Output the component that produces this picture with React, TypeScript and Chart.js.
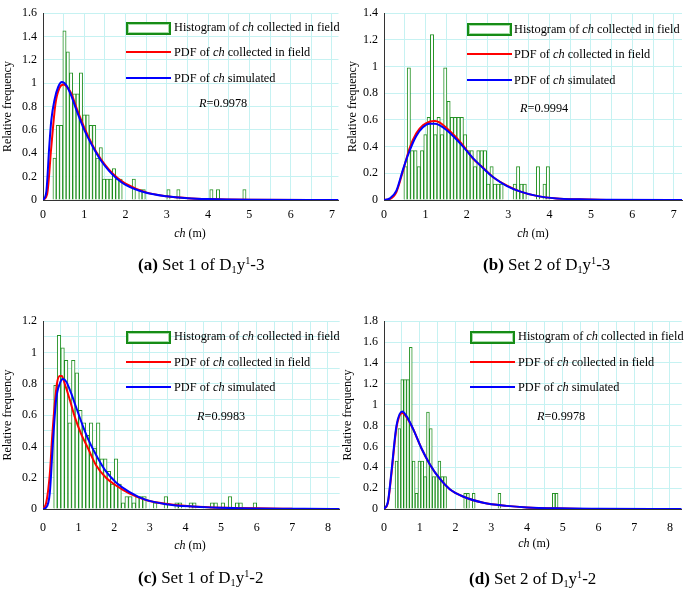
import React, { useEffect, useRef } from 'react';
import { Chart, registerables } from 'chart.js';
Chart.register(...registerables);

const FONT = "'Liberation Serif','Times New Roman',Times,serif";

// ---------- Panel (a): Set 1 of D1y1-3 ----------
const aBarX = [0.28,0.36,0.44,0.52,0.60,0.68,0.76,0.84,0.92,1.00,1.08,1.16,1.24,1.32,1.40,1.48,1.56,1.64,1.72,1.80,1.88,2.20,2.36,2.44,3.04,3.28,4.08,4.24,4.88];
const aBarY = [0.36,0.64,0.64,1.45,1.27,1.09,0.91,0.91,1.09,0.73,0.73,0.64,0.64,0.36,0.45,0.18,0.18,0.18,0.27,0.18,0.18,0.18,0.09,0.09,0.09,0.09,0.09,0.09,0.09];
const aFieldX = [0,0.1,0.2,0.3,0.4,0.5,0.6,0.7,0.8,1.0,1.2,1.4,1.6,1.8,2.0,2.5,3.0,3.5,4.0,5.0,7.0];
const aFieldY = [0,0.05,0.45,0.82,0.96,0.99,0.96,0.9,0.8,0.62,0.47,0.35,0.26,0.19,0.14,0.065,0.032,0.016,0.008,0.002,0];
const aSimX = [0,0.08,0.15,0.2,0.28,0.37,0.46,0.57,0.7,0.8,1.0,1.2,1.4,1.6,1.8,2.0,2.5,3.0,3.5,4.0,5.0,7.16];
const aSimY = [0,0.07,0.45,0.68,0.86,0.97,1.01,0.98,0.88,0.78,0.6,0.46,0.34,0.25,0.18,0.13,0.062,0.032,0.016,0.008,0.002,0];

// ---------- Panel (b): Set 2 of D1y1-3 ----------
const bBarX = [0.52,0.60,0.68,0.76,0.84,0.92,1.00,1.08,1.16,1.24,1.32,1.40,1.48,1.56,1.64,1.72,1.80,1.88,1.96,2.04,2.12,2.20,2.28,2.36,2.44,2.52,2.60,2.68,2.76,2.84,3.16,3.24,3.32,3.40,3.72,3.88,3.96];
const bBarY = [0.25,0.99,0.37,0.37,0.25,0.37,0.49,0.62,1.24,0.49,0.62,0.49,0.99,0.74,0.62,0.62,0.62,0.62,0.49,0.37,0.37,0.25,0.37,0.37,0.37,0.12,0.25,0.12,0.12,0.12,0.12,0.25,0.12,0.12,0.25,0.12,0.25];
const bFieldX = [0,0.14,0.3,0.46,0.62,0.78,0.94,1.1,1.23,1.35,1.51,1.71,1.91,2.15,2.4,2.64,2.96,3.28,3.69,4.17,4.73,5.38];
const bFieldY = [0,0.007,0.06,0.22,0.39,0.5,0.56,0.587,0.592,0.58,0.54,0.48,0.41,0.31,0.24,0.17,0.11,0.065,0.031,0.012,0.005,0];
const bSimX = [0,0.14,0.3,0.46,0.62,0.78,0.94,1.1,1.23,1.35,1.51,1.71,1.91,2.15,2.4,2.64,2.96,3.28,3.69,4.17,4.73,5.38,7.2];
const bSimY = [0,0.012,0.07,0.23,0.37,0.48,0.545,0.572,0.572,0.56,0.524,0.466,0.4,0.314,0.237,0.17,0.106,0.065,0.031,0.012,0.005,0.001,0];

// ---------- Panel (c): Set 1 of D1y1-2 ----------
const cBarX = [0.35,0.45,0.55,0.65,0.75,0.85,0.95,1.05,1.15,1.25,1.35,1.45,1.55,1.65,1.75,1.85,1.95,2.05,2.15,2.25,2.35,2.45,2.55,2.65,2.75,2.85,3.15,3.45,3.75,3.85,4.15,4.25,4.75,4.85,5.05,5.25,5.45,5.55,5.95];
const cBarY = [0.79,1.11,1.03,0.95,0.55,0.95,0.87,0.63,0.55,0.47,0.55,0.39,0.55,0.32,0.32,0.24,0.16,0.32,0.16,0.04,0.08,0.08,0.04,0.08,0.08,0.08,0.04,0.08,0.04,0.04,0.04,0.04,0.04,0.04,0.04,0.08,0.04,0.04,0.04];
const cFieldX = [0,0.09,0.19,0.26,0.33,0.39,0.47,0.53,0.61,0.75,0.89,1.07,1.26,1.49,1.77,2.05,2.42,2.89,3.45,4.19,5.13,7.0];
const cFieldY = [0,0.04,0.22,0.47,0.67,0.8,0.85,0.85,0.8,0.7,0.59,0.48,0.39,0.28,0.2,0.15,0.1,0.058,0.033,0.016,0.008,0.002];
const cSimX = [0,0.09,0.19,0.28,0.37,0.47,0.56,0.65,0.79,0.93,1.12,1.3,1.54,1.77,2.05,2.42,2.89,3.45,4.19,5.3,8.33];
const cSimY = [0,0.01,0.1,0.43,0.7,0.8,0.83,0.815,0.74,0.65,0.53,0.43,0.325,0.24,0.17,0.11,0.058,0.031,0.016,0.006,0];

// ---------- Panel (d): Set 2 of D1y1-2 ----------
const dBarX = [0.35,0.43,0.51,0.59,0.67,0.75,0.83,0.91,0.99,1.07,1.15,1.23,1.31,1.39,1.47,1.55,1.63,1.71,2.27,2.35,2.51,3.23,4.75,4.83];
const dBarY = [0.46,0.77,1.24,1.24,1.24,1.55,0.46,0.15,0.46,0.46,0.31,0.93,0.77,0.31,0.31,0.46,0.31,0.31,0.15,0.15,0.15,0.15,0.15,0.15];
const dFieldX = [0,0.11,0.2,0.35,0.51,0.63,0.81,1.05,1.28,1.56,1.84,2.21,2.78,3.43,4.0,4.83,5.58];
const dFieldY = [0,0.06,0.31,0.78,0.92,0.88,0.77,0.58,0.43,0.29,0.19,0.12,0.06,0.03,0.015,0.006,0];
const dSimX = [0,0.11,0.2,0.35,0.51,0.63,0.81,1.05,1.28,1.56,1.84,2.21,2.78,3.43,4.0,4.83,6.0,8.33];
const dSimY = [0,0.07,0.33,0.8,0.935,0.89,0.77,0.58,0.43,0.29,0.19,0.12,0.06,0.03,0.015,0.006,0.002,0];

const R_VALUES = ['0.9978', '0.9994', '0.9983', '0.9978'];
const CAPTION_LETTERS = ['a', 'b', 'c', 'd'];
const CAPTION_SETS = ['1', '2', '1', '2'];
const CAPTION_SUFFIX = ['3', '3', '2', '2'];
const Y_MAX = [1.6, 1.4, 1.2, 1.8];
const Y_GRID_STEP = [0.2, 0.2, 0.1, 0.2];
const X_MAX = [7.16, 7.2, 8.33, 8.33];

const DATA = [
  { barX: aBarX, barY: aBarY, fieldX: aFieldX, fieldY: aFieldY, simX: aSimX, simY: aSimY },
  { barX: bBarX, barY: bBarY, fieldX: bFieldX, fieldY: bFieldY, simX: bSimX, simY: bSimY },
  { barX: cBarX, barY: cBarY, fieldX: cFieldX, fieldY: cFieldY, simX: cSimX, simY: cSimY },
  { barX: dBarX, barY: dBarY, fieldX: dFieldX, fieldY: dFieldY, simX: dSimX, simY: dSimY },
];

// layout only
const LAYOUT = [
  { left: 0, top: 0, w: 343, h: 230, padTop: 7, padRight: 4, yW: 43, xH: 30, xPad: 8,
    legX: 126, legY: 22, textX: 174, row1: 27, row2: 52, row3: 78, rX: 199, rY: 103,
    titleX: 190, titleY: 233, capX: 138, capY: 265 },
  { left: 345, top: 0, w: 340, h: 230, padTop: 7, padRight: 3, yW: 39, xH: 30, xPad: 8,
    legX: 467, legY: 23, textX: 514, row1: 29, row2: 54, row3: 80, rX: 520, rY: 108,
    titleX: 533, titleY: 233, capX: 483, capY: 265 },
  { left: 0, top: 308, w: 343, h: 231, padTop: 7, padRight: 2, yW: 43, xH: 30, xPad: 12,
    legX: 126, legY: 331, textX: 174, row1: 336, row2: 362, row3: 387, rX: 197, rY: 416,
    titleX: 190, titleY: 545, capX: 138, capY: 578 },
  { left: 340, top: 308, w: 345, h: 231, padTop: 7, padRight: 2, yW: 44, xH: 30, xPad: 12,
    legX: 470, legY: 331, textX: 518, row1: 336, row2: 362, row3: 387, rX: 537, rY: 416,
    titleX: 534, titleY: 543, capX: 469, capY: 579 },
];

const GRID = '#c6f2f2';
const GREEN = 'rgba(0,128,0,0.85)';

function pts(xs: number[], ys: number[]) {
  return xs.map((x, i) => ({ x, y: ys[i] }));
}

function Panel({ idx }: { idx: number }) {
  const ref = useRef<HTMLCanvasElement | null>(null);
  const L = LAYOUT[idx];
  const D = DATA[idx];
  useEffect(() => {
    if (!ref.current) return;
    const yStep = Y_GRID_STEP[idx];
    const chart = new Chart(ref.current, {
      type: 'bar',
      data: {
        datasets: [
          { type: 'line', label: 'sim', data: pts(D.simX, D.simY), borderColor: '#0000ff', borderWidth: 2,
            pointRadius: 0, cubicInterpolationMode: 'monotone', order: 1 } as any,
          { type: 'line', label: 'field', data: pts(D.fieldX, D.fieldY), borderColor: '#ff0000', borderWidth: 2,
            pointRadius: 0, cubicInterpolationMode: 'monotone', order: 2 } as any,
          { type: 'bar', label: 'hist', data: pts(D.barX, D.barY), backgroundColor: '#ffffff',
            borderColor: GREEN, borderWidth: 1, categoryPercentage: 1, barPercentage: 1, order: 3 } as any,
        ],
      },
      options: {
        animation: false,
        responsive: false,
        devicePixelRatio: 1,
        layout: { padding: { top: L.padTop, right: L.padRight, left: 0, bottom: 0 } },
        plugins: { legend: { display: false }, tooltip: { enabled: false } },
        scales: {
          x: {
            type: 'linear', min: 0, max: X_MAX[idx], offset: false,
            grid: { color: GRID, drawTicks: false, offset: false },
            border: { color: '#333', width: 1 },
            ticks: {
              stepSize: 0.5, includeBounds: false, autoSkip: false, maxRotation: 0, padding: L.xPad,
              color: '#000', font: { family: FONT, size: 12 },
              callback: (v: any) => (Math.abs(v - Math.round(v)) < 1e-6 ? String(Math.round(v)) : ''),
            },
            afterFit: (s: any) => { s.height = L.xH; },
          },
          y: {
            type: 'linear', min: 0, max: Y_MAX[idx],
            grid: { color: GRID, drawTicks: false },
            border: { color: '#333', width: 1 },
            ticks: {
              stepSize: yStep, autoSkip: false, padding: 6, color: '#000', font: { family: FONT, size: 12 },
              callback: (v: any) => {
                const k = Math.round(v * 10);
                if (k % 2 !== 0) return '';
                return String(k / 10);
              },
            },
            title: { display: true, text: 'Relative frequency', color: '#000', font: { family: FONT, size: 12 },
              padding: { top: 1, bottom: 1 } },
            afterFit: (s: any) => { s.width = L.yW; },
          },
        },
      } as any,
    });
    return () => chart.destroy();
  }, [idx]);

  const txt: React.CSSProperties = { position: 'absolute', fontFamily: FONT, fontSize: 12.3, lineHeight: '14px', whiteSpace: 'nowrap', color: '#000' };
  return (
    <>
      <canvas ref={ref} width={L.w} height={L.h}
        style={{ position: 'absolute', left: L.left, top: L.top, width: L.w, height: L.h }} />
      {/* legend */}
      <div style={{ position: 'absolute', left: L.legX, top: L.legY, width: 41, height: 9,
        border: '2px solid #168c16', boxShadow: 'inset 0 0 0 1px #a8dca8', background: '#fff' }} />
      <div style={{ ...txt, left: L.textX, top: L.row1 - 7 }}>Histogram of <i>ch</i> collected in field</div>
      <div style={{ position: 'absolute', left: L.legX, top: L.row2 - 1, width: 45, height: 2, background: '#ff0000' }} />
      <div style={{ ...txt, left: L.textX, top: L.row2 - 7 }}>PDF of <i>ch</i> collected in field</div>
      <div style={{ position: 'absolute', left: L.legX, top: L.row3 - 1, width: 45, height: 2, background: '#0000ff' }} />
      <div style={{ ...txt, left: L.textX, top: L.row3 - 7 }}>PDF of <i>ch</i> simulated</div>
      <div style={{ ...txt, left: L.rX, top: L.rY - 7 }}><i>R</i>{'=' + R_VALUES[idx]}</div>
      {/* x title */}
      <div style={{ ...txt, fontSize: 12, left: L.titleX, top: L.titleY - 7, transform: 'translateX(-50%)' }}><i>ch</i> (m)</div>
      {/* caption */}
      <div style={{ position: 'absolute', left: L.capX, top: L.capY - 10, fontFamily: FONT, fontSize: 17,
        lineHeight: '20px', whiteSpace: 'nowrap', color: '#000' }}>
        <b>({CAPTION_LETTERS[idx]})</b> Set {CAPTION_SETS[idx]} of D
        <span style={{ fontSize: '0.6em', position: 'relative', top: '0.3em' }}>1</span>y
        <span style={{ fontSize: '0.6em', position: 'relative', top: '-0.6em' }}>1</span>-{CAPTION_SUFFIX[idx]}
      </div>
    </>
  );
}

export default function App() {
  return (
    <div style={{ position: 'fixed', left: 0, top: 0, width: 685, height: 590, background: '#fff', overflow: 'hidden' }}>
      {[0, 1, 2, 3].map((i) => <Panel key={i} idx={i} />)}
    </div>
  );
}
